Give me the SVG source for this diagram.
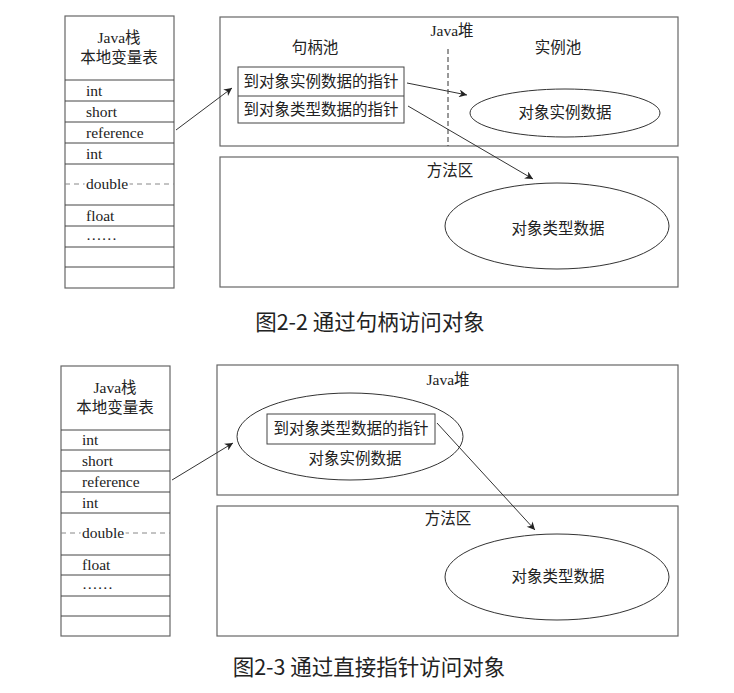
<svg xmlns="http://www.w3.org/2000/svg" width="734" height="693" viewBox="0 0 734 693">
<defs>
<style>
.t{font-family:"Liberation Serif","Noto Sans CJK SC",serif;font-size:15.5px;fill:#222}
.c{text-anchor:middle}
.cap{font-family:"Noto Sans CJK SC","Noto Sans",sans-serif;font-size:21.5px;fill:#222;text-anchor:middle}
.box{fill:#fff;stroke:#666;stroke-width:1.2}
.ln{stroke:#444;stroke-width:1;fill:none}
.dash{stroke:#888;stroke-width:1;stroke-dasharray:5,4;fill:none}
.ell{fill:#fff;stroke:#333;stroke-width:1}
.arr{stroke:#333;stroke-width:1;fill:none;marker-end:url(#ah)}
</style>
<marker id="ah" viewBox="0 0 10 10" refX="10" refY="5" markerWidth="10" markerHeight="8" markerUnits="userSpaceOnUse" orient="auto">
<path d="M0,0 L10,5 L0,10 L3,5 Z" fill="#222"/>
</marker>
</defs>
<rect width="734" height="693" fill="#fff"/>

<!-- Figure 2-2 -->
<g id="stack1">
<rect class="box" x="65" y="16" width="109" height="272"/>
<text class="t c" x="119" y="43">Java栈</text>
<text class="t c" x="119" y="63">本地变量表</text>
<path class="ln" d="M65,80H174M65,101H174M65,122H174M65,143H174M65,164H174M65,205H174M65,226H174M65,247H174M65,267H174"/>
<path class="dash" d="M65,184H174"/>
<text class="t" x="86" y="96">int</text>
<text class="t" x="86" y="117">short</text>
<text class="t" x="86" y="138">reference</text>
<text class="t" x="86" y="159">int</text>
<text class="t" x="86" y="189" style="paint-order:stroke;stroke:#fff;stroke-width:4">double</text>
<text class="t" x="86" y="221">float</text>
<text class="t" x="86" y="240">……</text>
</g>
<g id="heap1">
<rect class="box" x="220" y="17" width="458" height="129"/>
<text class="t c" x="452" y="36">Java堆</text>
<text class="t c" x="315" y="53">句柄池</text>
<text class="t c" x="558" y="53">实例池</text>
<path d="M448,49V146" stroke="#333" stroke-width="1" stroke-dasharray="5,3"/>
</g>
<g id="handle1">
<rect x="238" y="67" width="166" height="56" fill="#fff" stroke="#444" stroke-width="1"/>
<path class="ln" d="M238,96H404"/>
<text class="t c" x="321" y="87">到对象实例数据的指针</text>
<text class="t c" x="321" y="115">到对象类型数据的指针</text>
</g>
<g id="inst1">
<ellipse class="ell" cx="565" cy="113" rx="95" ry="24"/>
<text class="t c" x="565" y="118">对象实例数据</text>
</g>
<g id="method1">
<rect class="box" x="220" y="157" width="458" height="130"/>
<text class="t c" x="450" y="176">方法区</text>
</g>
<g id="type1">
<ellipse class="ell" cx="557" cy="226" rx="112" ry="43"/>
<text class="t c" x="558" y="234">对象类型数据</text>
</g>
<text class="cap" x="370" y="330">图2-2 通过句柄访问对象</text>

<!-- Figure 2-3 -->
<g id="stack2">
<rect class="box" x="61" y="366" width="109" height="270"/>
<text class="t c" x="115" y="393">Java栈</text>
<text class="t c" x="115" y="413">本地变量表</text>
<path class="ln" d="M61,430H170M61,450H170M61,471H170M61,492H170M61,513H170M61,555H170M61,575H170M61,596H170M61,616H170"/>
<path class="dash" d="M61,533H170"/>
<text class="t" x="82" y="445">int</text>
<text class="t" x="82" y="466">short</text>
<text class="t" x="82" y="487">reference</text>
<text class="t" x="82" y="508">int</text>
<text class="t" x="82" y="538" style="paint-order:stroke;stroke:#fff;stroke-width:4">double</text>
<text class="t" x="82" y="570">float</text>
<text class="t" x="82" y="589">……</text>
</g>
<g id="heap2">
<rect class="box" x="217" y="365" width="461" height="130"/>
<text class="t c" x="448" y="385">Java堆</text>
</g>
<g id="inst2">
<ellipse class="ell" cx="350" cy="436.5" rx="113" ry="43.5"/>
<rect x="267" y="414" width="168" height="30" fill="#fff" stroke="#444" stroke-width="1"/>
<text class="t c" x="351" y="434">到对象类型数据的指针</text>
<text class="t c" x="355" y="464">对象实例数据</text>
</g>
<g id="method2">
<rect class="box" x="217" y="506" width="461" height="130"/>
<text class="t c" x="448" y="524">方法区</text>
</g>
<g id="type2">
<ellipse class="ell" cx="557" cy="577" rx="112" ry="43"/>
<text class="t c" x="558" y="582">对象类型数据</text>
</g>
<text class="cap" x="369" y="675">图2-3 通过直接指针访问对象</text>

<g id="connectors">
<path class="arr" d="M176,130L232,88"/>
<path class="arr" d="M407,83L467,95"/>
<path class="arr" d="M408,106L533,179"/>
<path class="arr" d="M172,480L233,443"/>
<path class="arr" d="M437,423L535,530"/>
</g>
</svg>
